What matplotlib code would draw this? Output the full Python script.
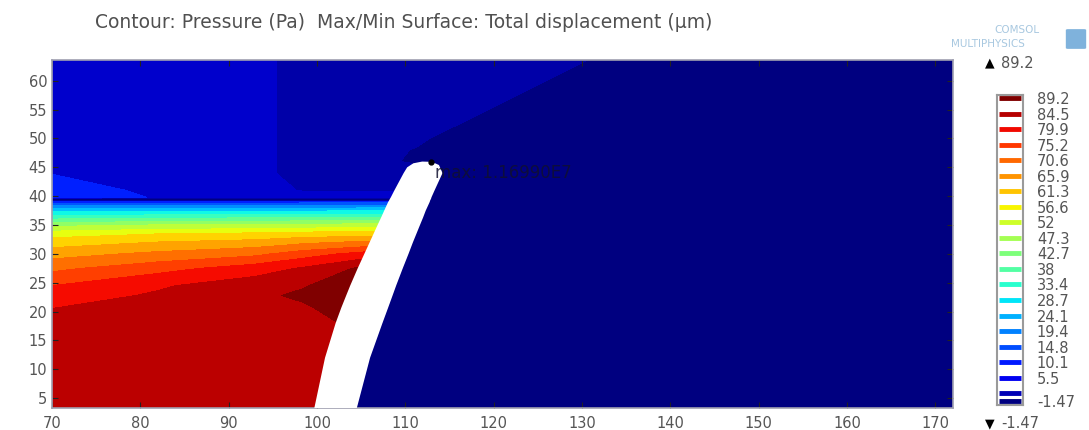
import numpy as np
import matplotlib.pyplot as plt
from matplotlib.colors import ListedColormap, BoundaryNorm
from matplotlib.patches import Polygon, FancyBboxPatch

# contour levels (Pa, scaled) as shown in the legend
levels = [-1.47, 0.86, 5.5, 10.1, 14.8, 19.4, 24.1, 28.7, 33.4, 38, 42.7,
          47.3, 52, 56.6, 61.3, 65.9, 70.6, 75.2, 79.9, 84.5, 89.2]
level_labels = ["-1.47", "", "5.5", "10.1", "14.8", "19.4", "24.1", "28.7",
                "33.4", "38", "42.7", "47.3", "52", "56.6", "61.3", "65.9",
                "70.6", "75.2", "79.9", "84.5", "89.2"]

# sampled pressure field: one row per y, columns follow the beam edges
row_y = [3.0, 12, 18, 20.7, 22.8, 24.5, 27.5, 30, 32, 33.5, 35, 36.3, 37.5,
         38.5, 39.0, 39.25, 39.55, 39.8, 41, 44, 46, 48, 50, 53, 56, 64]
beam_left = [99.65, 100.9, 102.1, 102.75, 103.3, 103.75, 104.6, 105.35, 105.95,
             106.4, 106.85, 107.25, 107.6, 107.9, 108.05, 108.15, 108.25, 108.35,
             108.75, 109.8, 110.5, 111.2, 111.9, 112.95, 114.0, 116.8]
beam_right = [104.45, 106.0, 107.4, 108.05, 108.55, 108.95, 109.7, 110.35, 110.85,
              111.25, 111.65, 112.0, 112.3, 112.6, 112.75, 112.8, 112.9, 112.95,
              113.3, 114.2, 114.8, 115.4, 116.0, 117.0, 118.0, 120.6]
diag_x = [130, 130, 130, 130, 130, 130, 130, 130, 130, 130, 130, 130, 130,
          130, 130, 130, 130, 130, 130, 130, 125, 125, 125, 125, 122.1, 136.6]

p_x70 = [82, 82, 81.5, 79.8, 77.6, 75.2, 69.5, 64, 59, 54.5, 46, 36, 27, 18,
         12, -1, -1, 12.5, 11.5, 10.0, 8, 8, 8, 8, 8, 8]
p_x82 = [82.2, 82.2, 82, 81.5, 80.5, 79.3, 73.5, 67, 61.5, 56.5, 47.5, 37,
         27.5, 18.5, 12, -1, -1, 9.8, 9.5, 8.5, 8, 8, 8, 8, 8, 8]
p_x93 = [82.5, 82.5, 82.8, 82.9, 83.3, 82.6, 77.5, 69.5, 63, 57.5, 48, 37.5,
         27.5, 18.5, 12, -1, -1, 8, 7.2, 7, 7, 7, 7, 7, 7, 7]
p_x98 = [82.5, 82.7, 83, 83.8, 85.5, 84.1, 80.5, 73, 65, 58.5, 48.5, 38, 28,
         19, 12.5, -1, -1, 7.5, 5.2, 3.5, 3.5, 3.5, 3.5, 3.5, 3.5, 3.5]
p_left = [82.5, 83, 84.3, 86.5, 88, 87.5, 85, 77, 67, 59, 49, 38.5, 28.5, 19,
          12.5, -1, -1, 7.5, 5.2, 3.5, 0.6, 0.7, 1.2, 3.5, 3.5, 3.5]
p_right = [-0.5] * 23 + [0.7, 3.5, 3.5]
p_diag = [-0.5] * 26
p_x172 = [-0.5] * 26

# beam cap (top of the deformed structure)
cap_x = [110.2, 110.9, 111.9, 113.0, 113.8]
cap_y = [45.0, 45.7, 46.0, 45.95, 45.4]
max_pt = (112.9, 45.95)
max_text = "max: 1.16990E7"

n = len(row_y)
X = np.column_stack([np.full(n, 70.0), np.full(n, 82.0), np.full(n, 93.0),
                     np.full(n, 98.5), beam_left, beam_right, diag_x,
                     np.full(n, 172.0)])
Y = np.column_stack([row_y] * 8)
Z = np.column_stack([p_x70, p_x82, p_x93, p_x98, p_left, p_right, p_diag, p_x172])

jet = plt.get_cmap("jet")
band_colors = jet(np.linspace(0, 1, len(levels) - 1))
# COMSOL's low end is a bit darker than matplotlib's jet
band_colors[1] = (0.0, 0.0, 0.66, 1.0)
band_colors[2] = (0.0, 0.0, 0.80, 1.0)
band_colors[3] = (0.0, 0.12, 1.0, 1.0)
band_cmap = ListedColormap(band_colors)
norm = BoundaryNorm(levels, len(levels) - 1)

fig = plt.figure(figsize=(10.89, 4.30), dpi=100)
ax = fig.add_axes([0.0478, 0.0512, 0.8274, 0.8093])
ax.contourf(X, Y, Z, levels=levels, cmap=band_cmap, norm=norm)

# white beam
top = [i for i, y in enumerate(row_y) if y <= 44]
verts = [(beam_left[i], row_y[i]) for i in top]
verts += list(zip(cap_x, cap_y))
verts += [(beam_right[i], row_y[i]) for i in reversed(top)]
ax.add_patch(Polygon(verts, closed=True, facecolor="white", edgecolor="none", zorder=3))

ax.plot(*max_pt, "o", color="black", ms=3.5, zorder=4)
ax.text(113.4, 44.1, max_text, fontsize=12, color="#101030", alpha=0.85,
        va="center", ha="left", zorder=5)

ax.set_xlim(70, 172)
ax.set_ylim(3.3, 63.6)
ax.set_xticks(range(70, 171, 10))
ax.set_yticks(range(5, 61, 5))
ax.tick_params(direction="in", length=4, top=True, right=True, color="#222222",
               labelcolor="#555555", labelsize=10.5)
ax.tick_params(axis="x", pad=6)
for s in ax.spines.values():
    s.set_color("#a0a0b0")
    s.set_linewidth(1.2)

fig.text(0.087, 1 - 22 / 430, "Contour: Pressure (Pa)  Max/Min Surface: Total displacement (µm)",
         fontsize=13.5, color="#505050", va="center", ha="left")

# COMSOL logo
fig.text(1017 / 1089, 1 - 30 / 430, "COMSOL", fontsize=7.5, color="#a8c8e0",
         ha="center", va="center")
fig.text(988 / 1089, 1 - 44 / 430, "MULTIPHYSICS", fontsize=7.5, color="#a8c8e0",
         ha="center", va="center")
fig.patches.append(FancyBboxPatch((1068 / 1089, 1 - 48 / 430), 16 / 1089, 18 / 430,
                                  boxstyle="round,pad=0.002", transform=fig.transFigure,
                                  facecolor="#7fb2dc", edgecolor="none"))

# discrete legend
cax = fig.add_axes([997 / 1089, 25 / 430, 26 / 1089, 310 / 430])
cax.set_xlim(0, 1)
cax.set_ylim(-2.67, 90.1)
cax.hlines(levels, 0.06, 0.94, colors=jet(np.linspace(0, 1, len(levels))), linewidth=3.5)
cax.set_xticks([])
cax.yaxis.tick_right()
cax.set_yticks(levels)
cax.set_yticklabels(level_labels)
cax.tick_params(axis="y", length=0, pad=10, labelsize=10.5, labelcolor="#555555")
for s in cax.spines.values():
    s.set_color("#9a9a9a")
    s.set_linewidth(1.5)

fig.text(990 / 1089, 1 - 63 / 430, "▲", fontsize=9, color="black", ha="center", va="center")
fig.text(1001 / 1089, 1 - 63 / 430, "89.2", fontsize=10.5, color="#555555", ha="left", va="center")
fig.text(990 / 1089, 1 - 424 / 430, "▼", fontsize=9, color="black", ha="center", va="center")
fig.text(1001 / 1089, 1 - 424 / 430, "-1.47", fontsize=10.5, color="#555555", ha="left", va="center")

fig.savefig("out.png", dpi=100)
